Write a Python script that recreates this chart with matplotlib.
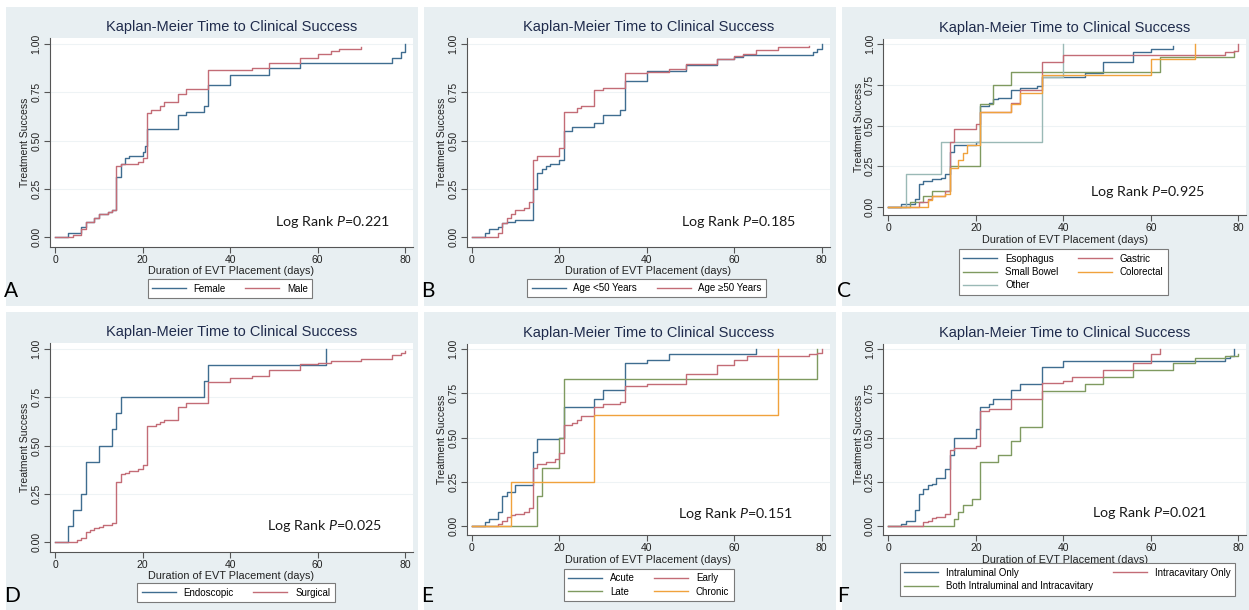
import matplotlib
matplotlib.use("Agg")
import matplotlib.pyplot as plt
from matplotlib.patches import Rectangle

# ---------------- data ----------------
female_t = [0, 3, 6, 7, 9, 10, 12, 13, 14, 15, 16, 17, 20, 20.5, 21, 28, 30, 34, 35, 40, 49, 56, 77, 79, 80]
female_s = [0, 0.02, 0.05, 0.08, 0.10, 0.12, 0.13, 0.14, 0.31, 0.38, 0.41, 0.42, 0.44, 0.47, 0.56, 0.63, 0.65, 0.68, 0.79, 0.84, 0.875, 0.90, 0.93, 0.96, 1.0]
male_t = [0, 4, 6, 7, 9, 10, 12, 13, 14, 15, 19, 20, 21, 22, 24, 25, 28, 30, 35, 45, 49, 56, 60, 63, 65, 70]
male_s = [0, 0.01, 0.04, 0.08, 0.10, 0.12, 0.13, 0.14, 0.37, 0.38, 0.39, 0.41, 0.645, 0.66, 0.68, 0.70, 0.74, 0.765, 0.865, 0.875, 0.90, 0.925, 0.95, 0.965, 0.975, 0.985]

young_t = [0, 3, 4, 6, 7, 8, 10, 14, 15, 16, 17, 18, 20, 21, 23, 28, 30, 34, 35, 40, 49, 56, 60, 62, 78, 79, 80]
young_s = [0, 0.02, 0.04, 0.05, 0.07, 0.08, 0.09, 0.25, 0.33, 0.35, 0.37, 0.38, 0.40, 0.55, 0.57, 0.59, 0.63, 0.66, 0.81, 0.86, 0.89, 0.92, 0.935, 0.945, 0.96, 0.975, 1.0]
old_t = [0, 6, 7, 8, 9, 10, 12, 13, 14, 15, 20, 21, 24, 25, 28, 30, 35, 40, 45, 49, 56, 60, 62, 65, 70, 77]
old_s = [0, 0.02, 0.07, 0.10, 0.12, 0.14, 0.15, 0.18, 0.40, 0.42, 0.46, 0.65, 0.67, 0.68, 0.76, 0.77, 0.85, 0.855, 0.87, 0.895, 0.92, 0.94, 0.95, 0.97, 0.985, 0.99]

eso_t = [0, 3, 6, 7, 8, 10, 12, 13, 14, 15, 20, 21, 23, 24, 25, 28, 30, 34, 35, 45, 49, 56, 60, 65]
eso_s = [0, 0.02, 0.05, 0.14, 0.16, 0.17, 0.18, 0.20, 0.34, 0.38, 0.40, 0.62, 0.64, 0.66, 0.67, 0.72, 0.73, 0.74, 0.80, 0.82, 0.89, 0.95, 0.97, 0.985]
gas_t = [0, 7, 9, 10, 13, 14, 15, 20, 21, 28, 30, 35, 40, 77, 79, 80]
gas_s = [0, 0.03, 0.05, 0.07, 0.10, 0.40, 0.48, 0.51, 0.58, 0.64, 0.72, 0.89, 0.93, 0.95, 0.96, 1.0]
sb_t = [0, 5, 8, 10, 14, 21, 24, 28, 62, 79]
sb_s = [0, 0.03, 0.07, 0.10, 0.25, 0.63, 0.75, 0.83, 0.92, 0.96]
col_t = [0, 9, 10, 13, 14, 16, 17, 18, 21, 28, 30, 35, 60, 70]
col_s = [0, 0.04, 0.07, 0.08, 0.24, 0.29, 0.33, 0.38, 0.58, 0.63, 0.70, 0.81, 0.91, 1.0]
oth_t = [0, 4, 12, 35, 40]
oth_s = [0, 0.20, 0.40, 0.80, 1.0]

endo_t = [0, 3, 4, 6, 7, 10, 13, 14, 15, 34, 35, 62]
endo_s = [0, 0.083, 0.167, 0.25, 0.417, 0.5, 0.583, 0.667, 0.75, 0.833, 0.917, 1.0]
surg_t = [0, 5, 6, 7, 8, 9, 10, 11, 13, 14, 15, 16, 17, 19, 20, 21, 23, 24, 25, 28, 30, 35, 40, 45, 49, 56, 60, 63, 70, 77, 79, 80]
surg_s = [0, 0.01, 0.02, 0.05, 0.06, 0.07, 0.08, 0.09, 0.10, 0.31, 0.35, 0.36, 0.37, 0.38, 0.40, 0.60, 0.61, 0.62, 0.63, 0.70, 0.72, 0.83, 0.85, 0.86, 0.89, 0.92, 0.93, 0.94, 0.95, 0.97, 0.98, 0.99]

acute_t = [0, 3, 4, 6, 7, 8, 10, 14, 15, 20, 21, 28, 30, 35, 40, 45, 65]
acute_s = [0, 0.02, 0.04, 0.08, 0.17, 0.19, 0.23, 0.42, 0.49, 0.50, 0.67, 0.72, 0.77, 0.92, 0.94, 0.97, 1.0]
early_t = [0, 6, 7, 8, 9, 10, 12, 13, 14, 15, 17, 19, 20, 21, 23, 24, 25, 28, 30, 34, 35, 40, 49, 56, 60, 63, 77, 79, 80]
early_s = [0, 0.01, 0.03, 0.05, 0.06, 0.07, 0.08, 0.10, 0.33, 0.35, 0.36, 0.38, 0.41, 0.57, 0.58, 0.60, 0.62, 0.67, 0.69, 0.70, 0.79, 0.80, 0.86, 0.91, 0.94, 0.96, 0.97, 0.98, 1.0]
late_t = [0, 15, 16, 20, 21, 79]
late_s = [0, 0.17, 0.33, 0.50, 0.83, 1.0]
chron_t = [0, 9, 28, 70]
chron_s = [0, 0.25, 0.625, 1.0]

intra_t = [0, 3, 4, 6, 7, 8, 9, 10, 11, 13, 14, 15, 20, 21, 23, 24, 28, 30, 35, 40, 77, 78, 79]
intra_s = [0, 0.01, 0.03, 0.09, 0.18, 0.21, 0.23, 0.24, 0.27, 0.32, 0.40, 0.50, 0.55, 0.67, 0.69, 0.72, 0.77, 0.80, 0.90, 0.93, 0.95, 0.96, 1.0]
cav_t = [0, 8, 9, 10, 11, 13, 14, 15, 20, 21, 23, 28, 35, 40, 42, 49, 56, 60, 62]
cav_s = [0, 0.02, 0.03, 0.045, 0.05, 0.07, 0.43, 0.44, 0.45, 0.65, 0.66, 0.72, 0.81, 0.82, 0.84, 0.88, 0.92, 0.97, 1.0]
both_t = [0, 15, 16, 17, 19, 21, 25, 28, 30, 35, 45, 49, 56, 65, 70, 77, 80]
both_s = [0, 0.04, 0.08, 0.12, 0.15, 0.36, 0.40, 0.48, 0.56, 0.76, 0.80, 0.84, 0.88, 0.92, 0.95, 0.96, 0.97]

panel_letters = ["A", "B", "C", "D", "E", "F"]
p_values = ["0.221", "0.185", "0.925", "0.025", "0.151", "0.021"]
title_text = "Kaplan-Meier Time to Clinical Success"
x_ticks = [0, 20, 40, 60, 80]
y_ticks = [0, 0.25, 0.5, 0.75, 1.0]
y_ticklabels = ["0.00", "0.25", "0.50", "0.75", "1.00"]

# ---------------- style ----------------
BLUE = "#3f6d90"
RED = "#c36c76"
GREEN = "#7f9a60"
ORANGE = "#f0a23c"
TEAL = "#9ab9b6"
BG = "#e8eff2"
TITLE_C = "#1f2b4c"

plt.rcParams["font.family"] = ["Liberation Sans", "DejaVu Sans"]
plt.rcParams["mathtext.fontset"] = "custom"
plt.rcParams["mathtext.rm"] = "Lato"
plt.rcParams["mathtext.it"] = "Lato:italic"

W, H = 1249, 610
fig = plt.figure(figsize=(W / 100, H / 100), dpi=100, facecolor="white")

col_x = [0, 416.67, 833.33]
row_y = [0, 305]
bg_x = [(6, 418), (424, 836), (842, 1249)]
bg_y = [(7, 306), (312, 610)]

for (x0, x1) in bg_x:
    for (y0, y1) in bg_y:
        fig.add_artist(Rectangle((x0 / W, 1 - y1 / H), (x1 - x0) / W, (y1 - y0) / H,
                                 transform=fig.transFigure, facecolor=BG,
                                 edgecolor="none", zorder=-5))

panels = [
    dict(col=0, row=0, y0px=237, curves=[(female_t, female_s, BLUE, "Female"), (male_t, male_s, RED, "Male")],
         ncol=2, leg_c=(230, 288.5), lr=(275, 222)),
    dict(col=1, row=0, y0px=237, curves=[(young_t, young_s, BLUE, "Age <50 Years"), (old_t, old_s, RED, "Age \u226550 Years")],
         ncol=2, leg_c=(230, 288), lr=(264, 222)),
    dict(col=2, row=0, y0px=207, curves=[(eso_t, eso_s, BLUE, "Esophagus"), (sb_t, sb_s, GREEN, "Small Bowel"),
                                          (oth_t, oth_s, TEAL, "Other"), (gas_t, gas_s, RED, "Gastric"),
                                          (col_t, col_s, ORANGE, "Colorectal")],
         ncol=2, leg_c=(230, 272), lr=(257, 192)),
    dict(col=0, row=1, y0px=237, curves=[(endo_t, endo_s, BLUE, "Endoscopic"), (surg_t, surg_s, RED, "Surgical")],
         ncol=2, leg_c=(236, 287.5), lr=(267, 221)),
    dict(col=1, row=1, y0px=221, curves=[(acute_t, acute_s, BLUE, "Acute"), (late_t, late_s, GREEN, "Late"),
                                          (early_t, early_s, RED, "Early"), (chron_t, chron_s, ORANGE, "Chronic")],
         ncol=2, leg_c=(232, 280), lr=(261, 209)),
    dict(col=2, row=1, y0px=221, curves=[(intra_t, intra_s, BLUE, "Intraluminal Only"),
                                          (both_t, both_s, GREEN, "Both Intraluminal and Intracavitary"),
                                          (cav_t, cav_s, RED, "Intracavitary Only")],
         ncol=2, leg_c=(234, 274.5), lr=(259, 208)),
]

YLO, YHI = -0.05, 1.03
XLO, XHI = -1.15, 81.8

for i, p in enumerate(panels):
    ox, oy = col_x[p["col"]], row_y[p["row"]]
    units = p["y0px"] - 44
    top = 44 - (YHI - 1) * units
    bottom = p["y0px"] - YLO * units
    left, right = 50, 413
    ax = fig.add_axes([(ox + left) / W, 1 - (oy + bottom) / H, (right - left) / W, (bottom - top) / H])
    ax.set_facecolor("white")
    ax.set_xlim(XLO, XHI)
    ax.set_ylim(YLO, YHI)
    for sp in ("top", "right"):
        ax.spines[sp].set_visible(False)
    for sp in ("left", "bottom"):
        ax.spines[sp].set_color("#555555")
        ax.spines[sp].set_linewidth(0.8)
    ax.set_xticks(x_ticks)
    ax.set_yticks(y_ticks)
    ax.set_yticklabels(y_ticklabels, rotation=90, va="center")
    ax.tick_params(axis="both", direction="out", length=4, width=0.8, color="#555555",
                   labelsize=7.5, labelcolor="#222222", pad=2)
    for yv in y_ticks[1:]:
        ax.axhline(yv, color="#eef3f5", lw=0.8, zorder=0)
    handles = []
    for (t, s, c, lab) in p["curves"]:
        h, = ax.plot(t, s, drawstyle="steps-post", color=c, lw=1.0, label=lab)
        handles.append(h)
    ax.set_xlabel("Duration of EVT Placement (days)", fontsize=7.8, labelpad=1, color="#222222")
    ax.set_ylabel("Treatment Success", fontsize=7.5, labelpad=1, color="#222222")
    ax.set_title(title_text, fontsize=10.5, color=TITLE_C, pad=5)
    # log rank text
    fig.text((ox + p["lr"][0]) / W, 1 - (oy + p["lr"][1]) / H,
             r"Log Rank $\mathit{P}$=" + p_values[i], fontsize=10.3, family="Lato",
             color="#1a1a1a", ha="left", va="center")
    # legend
    lc = p["leg_c"]
    leg = ax.legend(handles=handles, ncol=p["ncol"], loc="center",
                    bbox_to_anchor=((ox + lc[0]) / W, 1 - (oy + lc[1]) / H),
                    bbox_transform=fig.transFigure, fontsize=7, frameon=True, fancybox=False,
                    edgecolor="#7a7a7a", facecolor="white", framealpha=1.0,
                    handlelength=3.5, columnspacing=2.0, labelspacing=0.35,
                    borderpad=0.45, handletextpad=0.8)
    leg.get_frame().set_linewidth(0.8)
    # panel letter
    fig.text((ox + 4) / W, 1 - (oy + 291) / H, panel_letters[i], fontsize=15, family="Lato",
             color="black", ha="left", va="center")

fig.savefig("out.png", dpi=100, facecolor="white")
